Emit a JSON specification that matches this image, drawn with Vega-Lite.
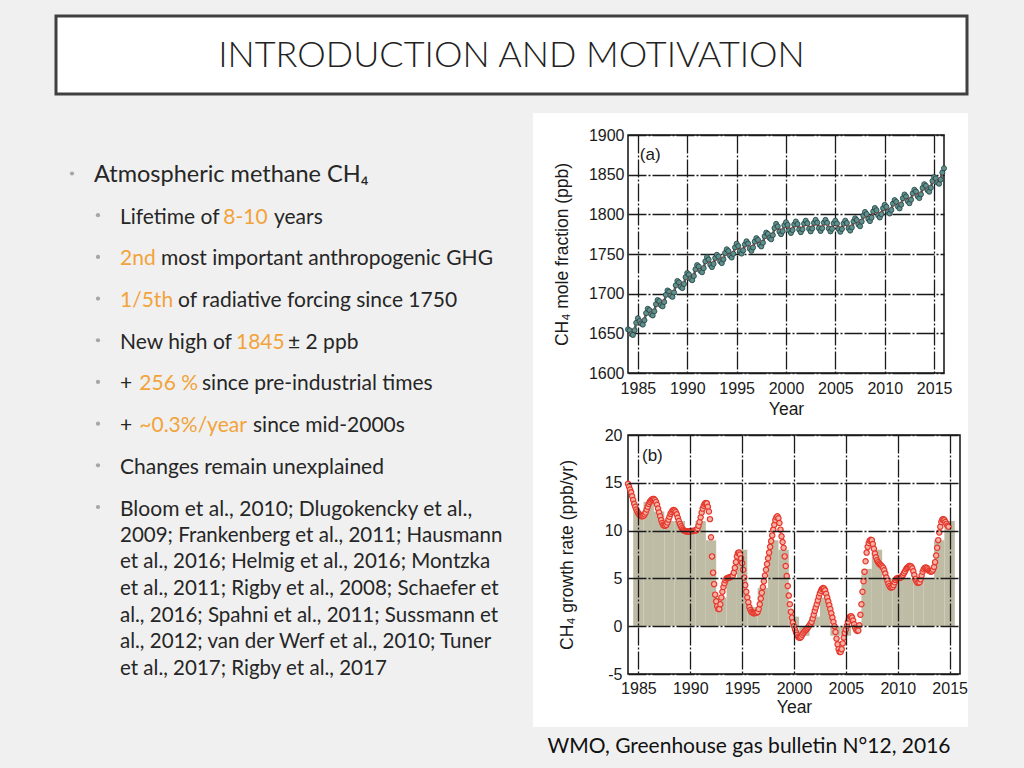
{
"$schema": "https://vega.github.io/schema/vega-lite/v6.json",
"background": "#f0f0f0",
"padding": 0,
"columns": 2,
"align": "none",
"bounds": "flush",
"spacing": 62,
"config": {
  "font": "Liberation Sans",
  "view": {"stroke": null},
  "axis": {"labelFont": "Liberation Sans", "labelFontSize": 16, "labelColor": "#1a1a1a", "titleFont": "Liberation Sans", "titleFontSize": 17.5, "titleFontWeight": "normal", "titleColor": "#1a1a1a", "domain": false, "ticks": false, "grid": true, "gridColor": "#1a1a1a", "gridWidth": 1.3, "gridDash": [18, 2, 2, 2], "gridOpacity": 1, "labelFlush": false, "labelOverlap": false}
},
"datasets": {
  "lines1": [
    {"i": 0, "lvl": 0, "seg": "Atmospheric methane CH₄", "emph": 0},
    {"i": 1, "lvl": 1, "seg": "Lifetime of", "emph": 0},
    {"i": 2, "lvl": 1, "seg": "2nd", "emph": 1},
    {"i": 3, "lvl": 1, "seg": "1/5th", "emph": 1},
    {"i": 4, "lvl": 1, "seg": "New high of", "emph": 0},
    {"i": 5, "lvl": 1, "seg": "+", "emph": 0},
    {"i": 6, "lvl": 1, "seg": "+", "emph": 0},
    {"i": 7, "lvl": 1, "seg": "Changes remain unexplained", "emph": 0},
    {"i": 8, "lvl": 1, "seg": "Bloom et al., 2010; Dlugokencky et al.,", "emph": 0}
  ],
  "lines2": [
    {"i": 0, "lvl": 1, "txt": "2009; Frankenberg et al., 2011; Hausmann"},
    {"i": 1, "lvl": 1, "txt": "et al., 2016; Helmig et al., 2016; Montzka"},
    {"i": 2, "lvl": 1, "txt": "et al., 2011; Rigby et al., 2008; Schaefer et"},
    {"i": 3, "lvl": 1, "txt": "al., 2016; Spahni et al., 2011; Sussmann et"},
    {"i": 4, "lvl": 1, "txt": "al., 2012; van der Werf et al., 2010; Tuner"},
    {"i": 5, "lvl": 1, "txt": "et al., 2017; Rigby et al., 2017"}
  ],
  "ch4": [
    {"t":1984,"v":1655},{"t":1984.167,"v":1653.8},{"t":1984.333,"v":1649.2},{"t":1984.5,"v":1648},{"t":1984.667,"v":1653.8},{"t":1984.833,"v":1663.2},
    {"t":1985,"v":1669},{"t":1985.167,"v":1665.5},{"t":1985.333,"v":1662.5},{"t":1985.5,"v":1661},{"t":1985.667,"v":1666.5},{"t":1985.833,"v":1675.5},
    {"t":1986,"v":1681},{"t":1986.167,"v":1679.3},{"t":1986.333,"v":1674.2},{"t":1986.5,"v":1672.5},{"t":1986.667,"v":1677.8},{"t":1986.833,"v":1686.7},
    {"t":1987,"v":1692},{"t":1987.167,"v":1690.5},{"t":1987.333,"v":1685.5},{"t":1987.5,"v":1684},{"t":1987.667,"v":1689.5},{"t":1987.833,"v":1698.5},
    {"t":1988,"v":1704},{"t":1988.167,"v":1702.5},{"t":1988.333,"v":1697.5},{"t":1988.5,"v":1696},{"t":1988.667,"v":1701.5},{"t":1988.833,"v":1710.5},
    {"t":1989,"v":1716},{"t":1989.167,"v":1714.2},{"t":1989.333,"v":1708.8},{"t":1989.5,"v":1707},{"t":1989.667,"v":1712.2},{"t":1989.833,"v":1720.8},
    {"t":1990,"v":1726},{"t":1990.167,"v":1724.2},{"t":1990.333,"v":1718.8},{"t":1990.5,"v":1717},{"t":1990.667,"v":1722.2},{"t":1990.833,"v":1730.8},
    {"t":1991,"v":1736},{"t":1991.167,"v":1734.2},{"t":1991.333,"v":1728.8},{"t":1991.5,"v":1727},{"t":1991.667,"v":1732.2},{"t":1991.833,"v":1740.8},
    {"t":1992,"v":1746},{"t":1992.167,"v":1743},{"t":1992.333,"v":1736.5},{"t":1992.5,"v":1733.5},{"t":1992.667,"v":1737.5},{"t":1992.833,"v":1745},
    {"t":1993,"v":1749},{"t":1993.167,"v":1746.7},{"t":1993.333,"v":1740.8},{"t":1993.5,"v":1738.5},{"t":1993.667,"v":1743.2},{"t":1993.833,"v":1751.3},
    {"t":1994,"v":1756},{"t":1994.167,"v":1753.7},{"t":1994.333,"v":1747.8},{"t":1994.5,"v":1745.5},{"t":1994.667,"v":1750.2},{"t":1994.833,"v":1758.3},
    {"t":1995,"v":1763},{"t":1995.167,"v":1760},{"t":1995.333,"v":1753.5},{"t":1995.5,"v":1750.5},{"t":1995.667,"v":1754.5},{"t":1995.833,"v":1762},
    {"t":1996,"v":1766},{"t":1996.167,"v":1763.2},{"t":1996.333,"v":1756.8},{"t":1996.5,"v":1754},{"t":1996.667,"v":1758.2},{"t":1996.833,"v":1765.8},
    {"t":1997,"v":1770},{"t":1997.167,"v":1767.7},{"t":1997.333,"v":1761.8},{"t":1997.5,"v":1759.5},{"t":1997.667,"v":1764.2},{"t":1997.833,"v":1772.3},
    {"t":1998,"v":1777},{"t":1998.167,"v":1775.3},{"t":1998.333,"v":1770.2},{"t":1998.5,"v":1768.5},{"t":1998.667,"v":1773.8},{"t":1998.833,"v":1782.7},
    {"t":1999,"v":1788},{"t":1999.167,"v":1784.8},{"t":1999.333,"v":1778.2},{"t":1999.5,"v":1775},{"t":1999.667,"v":1778.8},{"t":1999.833,"v":1786.2},
    {"t":2000,"v":1790},{"t":2000.167,"v":1786.7},{"t":2000.333,"v":1779.8},{"t":2000.5,"v":1776.5},{"t":2000.667,"v":1780.2},{"t":2000.833,"v":1787.3},
    {"t":2001,"v":1791},{"t":2001.167,"v":1787.7},{"t":2001.333,"v":1780.8},{"t":2001.5,"v":1777.5},{"t":2001.667,"v":1781.2},{"t":2001.833,"v":1788.3},
    {"t":2002,"v":1792},{"t":2002.167,"v":1788.7},{"t":2002.333,"v":1781.8},{"t":2002.5,"v":1778.5},{"t":2002.667,"v":1782.2},{"t":2002.833,"v":1789.3},
    {"t":2003,"v":1793},{"t":2003.167,"v":1789.5},{"t":2003.333,"v":1782.5},{"t":2003.5,"v":1779},{"t":2003.667,"v":1782.5},{"t":2003.833,"v":1789.5},
    {"t":2004,"v":1793},{"t":2004.167,"v":1789.3},{"t":2004.333,"v":1782.2},{"t":2004.5,"v":1778.5},{"t":2004.667,"v":1781.8},{"t":2004.833,"v":1788.7},
    {"t":2005,"v":1792},{"t":2005.167,"v":1788.5},{"t":2005.333,"v":1781.5},{"t":2005.5,"v":1778},{"t":2005.667,"v":1781.5},{"t":2005.833,"v":1788.5},
    {"t":2006,"v":1792},{"t":2006.167,"v":1789},{"t":2006.333,"v":1782.5},{"t":2006.5,"v":1779.5},{"t":2006.667,"v":1783.5},{"t":2006.833,"v":1791},
    {"t":2007,"v":1795},{"t":2007.167,"v":1792.8},{"t":2007.333,"v":1787.2},{"t":2007.5,"v":1785},{"t":2007.667,"v":1790.8},{"t":2007.833,"v":1798.2},
    {"t":2008,"v":1803},{"t":2008.167,"v":1800.3},{"t":2008.333,"v":1794.2},{"t":2008.5,"v":1791.5},{"t":2008.667,"v":1795.8},{"t":2008.833,"v":1803.7},
    {"t":2009,"v":1808},{"t":2009.167,"v":1805.2},{"t":2009.333,"v":1798.8},{"t":2009.5,"v":1796},{"t":2009.667,"v":1800.2},{"t":2009.833,"v":1807.8},
    {"t":2010,"v":1812},{"t":2010.167,"v":1809.5},{"t":2010.333,"v":1803.5},{"t":2010.5,"v":1801},{"t":2010.667,"v":1805.5},{"t":2010.833,"v":1813.5},
    {"t":2011,"v":1818},{"t":2011.167,"v":1815.7},{"t":2011.333,"v":1809.8},{"t":2011.5,"v":1807.5},{"t":2011.667,"v":1812.2},{"t":2011.833,"v":1820.3},
    {"t":2012,"v":1825},{"t":2012.167,"v":1822.5},{"t":2012.333,"v":1816.5},{"t":2012.5,"v":1814},{"t":2012.667,"v":1818.5},{"t":2012.833,"v":1826.5},
    {"t":2013,"v":1831},{"t":2013.167,"v":1828.7},{"t":2013.333,"v":1822.8},{"t":2013.5,"v":1820.5},{"t":2013.667,"v":1825.2},{"t":2013.833,"v":1833.3},
    {"t":2014,"v":1838},{"t":2014.167,"v":1836},{"t":2014.333,"v":1830.5},{"t":2014.5,"v":1828.5},{"t":2014.667,"v":1833.5},{"t":2014.833,"v":1842},
    {"t":2015,"v":1847},{"t":2015.167,"v":1845.3},{"t":2015.333,"v":1840.2},{"t":2015.5,"v":1838.5},{"t":2015.667,"v":1843.8},{"t":2015.833,"v":1852.7},
    {"t":2016,"v":1858}
  ],
  "trend": [
    {"t":1984,"v":1648},{"t":1985,"v":1662},{"t":1986,"v":1674},{"t":1987,"v":1685},{"t":1988,"v":1697},{"t":1989,"v":1709},{"t":1990,"v":1719},{"t":1991,"v":1729},{"t":1992,"v":1739},{"t":1993,"v":1742},{"t":1994,"v":1749},{"t":1995,"v":1756},{"t":1996,"v":1759},{"t":1997,"v":1763},{"t":1998,"v":1770},{"t":1999,"v":1781},{"t":2000,"v":1783},{"t":2001,"v":1784},{"t":2002,"v":1785},{"t":2003,"v":1786},{"t":2004,"v":1786},{"t":2005,"v":1785},{"t":2006,"v":1785},{"t":2007,"v":1788},{"t":2008,"v":1796},{"t":2009,"v":1801},{"t":2010,"v":1805},{"t":2011,"v":1811},{"t":2012,"v":1818},{"t":2013,"v":1824},{"t":2014,"v":1831},{"t":2015,"v":1840},{"t":2016,"v":1851}
  ],
  "annual": [
    {"from":1984.5,"to":1985.5,"rate":12},{"from":1985.5,"to":1986.5,"rate":13},{"from":1986.5,"to":1987.5,"rate":12},{"from":1987.5,"to":1988.5,"rate":11},{"from":1988.5,"to":1989.5,"rate":11},{"from":1989.5,"to":1990.5,"rate":10},{"from":1990.5,"to":1991.5,"rate":11},{"from":1991.5,"to":1992.5,"rate":9},{"from":1992.5,"to":1993.5,"rate":3},{"from":1993.5,"to":1994.5,"rate":5},{"from":1994.5,"to":1995.5,"rate":8},{"from":1995.5,"to":1996.5,"rate":2},{"from":1996.5,"to":1997.5,"rate":4},{"from":1997.5,"to":1998.5,"rate":9},{"from":1998.5,"to":1999.5,"rate":8},{"from":1999.5,"to":2000.5,"rate":1},{"from":2000.5,"to":2001.5,"rate":-1},{"from":2001.5,"to":2002.5,"rate":1},{"from":2002.5,"to":2003.5,"rate":3},{"from":2003.5,"to":2004.5,"rate":-1},{"from":2004.5,"to":2005.5,"rate":-1},{"from":2005.5,"to":2006.5,"rate":0},{"from":2006.5,"to":2007.5,"rate":6},{"from":2007.5,"to":2008.5,"rate":8},{"from":2008.5,"to":2009.5,"rate":5},{"from":2009.5,"to":2010.5,"rate":5},{"from":2010.5,"to":2011.5,"rate":5},{"from":2011.5,"to":2012.5,"rate":5},{"from":2012.5,"to":2013.5,"rate":5},{"from":2013.5,"to":2014.5,"rate":9},{"from":2014.5,"to":2015.5,"rate":11}
  ],
  "growth": [
    {"t":1984.0,"g":14.9},{"t":1984.1,"g":14.6},{"t":1984.2,"g":14.3},{"t":1984.3,"g":14.0},{"t":1984.4,"g":13.6},{"t":1984.5,"g":13.2},{"t":1984.6,"g":12.8},{"t":1984.7,"g":12.5},{"t":1984.8,"g":12.2},{"t":1984.9,"g":12.0},
    {"t":1985.0,"g":11.8},{"t":1985.1,"g":11.65},{"t":1985.2,"g":11.55},{"t":1985.3,"g":11.5},{"t":1985.4,"g":11.5},{"t":1985.5,"g":11.55},{"t":1985.6,"g":11.7},{"t":1985.7,"g":11.9},{"t":1985.8,"g":12.2},{"t":1985.9,"g":12.5},
    {"t":1986.0,"g":12.8},{"t":1986.1,"g":13.0},{"t":1986.2,"g":13.15},{"t":1986.3,"g":13.25},{"t":1986.4,"g":13.3},{"t":1986.5,"g":13.3},{"t":1986.6,"g":13.2},{"t":1986.7,"g":13.0},{"t":1986.8,"g":12.7},{"t":1986.9,"g":12.3},
    {"t":1987.0,"g":11.9},{"t":1987.1,"g":11.5},{"t":1987.2,"g":11.1},{"t":1987.3,"g":10.8},{"t":1987.4,"g":10.6},{"t":1987.5,"g":10.5},{"t":1987.6,"g":10.5},{"t":1987.7,"g":10.6},{"t":1987.8,"g":10.85},{"t":1987.9,"g":11.15},
    {"t":1988.0,"g":11.45},{"t":1988.1,"g":11.75},{"t":1988.2,"g":11.95},{"t":1988.3,"g":12.1},{"t":1988.4,"g":12.15},{"t":1988.5,"g":12.1},{"t":1988.6,"g":11.95},{"t":1988.7,"g":11.7},{"t":1988.8,"g":11.35},{"t":1988.9,"g":11.0},
    {"t":1989.0,"g":10.7},{"t":1989.1,"g":10.45},{"t":1989.2,"g":10.25},{"t":1989.3,"g":10.1},{"t":1989.4,"g":10.0},{"t":1989.5,"g":9.95},{"t":1989.6,"g":9.9},{"t":1989.7,"g":9.9},{"t":1989.8,"g":9.9},{"t":1989.9,"g":9.9},
    {"t":1990.0,"g":9.9},{"t":1990.1,"g":9.95},{"t":1990.2,"g":9.95},{"t":1990.3,"g":9.95},{"t":1990.4,"g":10.0},{"t":1990.5,"g":10.0},{"t":1990.6,"g":10.05},{"t":1990.7,"g":10.2},{"t":1990.8,"g":10.5},{"t":1990.9,"g":10.9},
    {"t":1991.0,"g":11.4},{"t":1991.1,"g":11.9},{"t":1991.2,"g":12.3},{"t":1991.3,"g":12.6},{"t":1991.4,"g":12.8},{"t":1991.5,"g":12.9},{"t":1991.6,"g":12.85},{"t":1991.7,"g":12.5},{"t":1991.8,"g":12.0},{"t":1991.9,"g":11.2},
    {"t":1992.0,"g":9.3},{"t":1992.1,"g":7.3},{"t":1992.2,"g":5.6},{"t":1992.3,"g":4.4},{"t":1992.4,"g":3.3},{"t":1992.5,"g":2.6},{"t":1992.6,"g":2.1},{"t":1992.7,"g":1.8},{"t":1992.8,"g":1.8},{"t":1992.9,"g":2.3},
    {"t":1993.0,"g":3.0},{"t":1993.1,"g":3.6},{"t":1993.2,"g":4.1},{"t":1993.3,"g":4.5},{"t":1993.4,"g":4.8},{"t":1993.5,"g":5.0},{"t":1993.6,"g":5.05},{"t":1993.7,"g":5.1},{"t":1993.8,"g":5.1},{"t":1993.9,"g":5.15},
    {"t":1994.0,"g":5.2},{"t":1994.1,"g":5.3},{"t":1994.2,"g":5.6},{"t":1994.3,"g":6.1},{"t":1994.4,"g":6.7},{"t":1994.5,"g":7.3},{"t":1994.6,"g":7.65},{"t":1994.7,"g":7.7},{"t":1994.8,"g":7.5},{"t":1994.9,"g":7.1},
    {"t":1995.0,"g":6.6},{"t":1995.1,"g":5.9},{"t":1995.2,"g":5.1},{"t":1995.3,"g":4.3},{"t":1995.4,"g":3.6},{"t":1995.5,"g":3.0},{"t":1995.6,"g":2.5},{"t":1995.7,"g":2.0},{"t":1995.8,"g":1.7},{"t":1995.9,"g":1.5},
    {"t":1996.0,"g":1.4},{"t":1996.1,"g":1.35},{"t":1996.2,"g":1.35},{"t":1996.3,"g":1.4},{"t":1996.4,"g":1.4},{"t":1996.5,"g":1.5},{"t":1996.6,"g":1.8},{"t":1996.7,"g":2.3},{"t":1996.8,"g":2.9},{"t":1996.9,"g":3.5},
    {"t":1997.0,"g":4.1},{"t":1997.1,"g":4.7},{"t":1997.2,"g":5.3},{"t":1997.3,"g":5.9},{"t":1997.4,"g":6.5},{"t":1997.5,"g":7.1},{"t":1997.6,"g":7.7},{"t":1997.7,"g":8.3},{"t":1997.8,"g":8.9},{"t":1997.9,"g":9.5},
    {"t":1998.0,"g":10.1},{"t":1998.1,"g":10.6},{"t":1998.2,"g":11.1},{"t":1998.3,"g":11.4},{"t":1998.4,"g":11.5},{"t":1998.5,"g":11.3},{"t":1998.6,"g":10.8},{"t":1998.7,"g":10.1},{"t":1998.8,"g":9.4},{"t":1998.9,"g":8.8},
    {"t":1999.0,"g":8.2},{"t":1999.1,"g":7.3},{"t":1999.2,"g":6.3},{"t":1999.3,"g":5.25},{"t":1999.4,"g":4.2},{"t":1999.5,"g":3.2},{"t":1999.6,"g":2.3},{"t":1999.7,"g":1.5},{"t":1999.8,"g":0.9},{"t":1999.9,"g":0.4},
    {"t":2000.0,"g":0.0},{"t":2000.1,"g":-0.35},{"t":2000.2,"g":-0.65},{"t":2000.3,"g":-0.9},{"t":2000.4,"g":-1.1},{"t":2000.5,"g":-1.2},{"t":2000.6,"g":-1.2},{"t":2000.7,"g":-1.1},{"t":2000.8,"g":-0.9},{"t":2000.9,"g":-0.7},
    {"t":2001.0,"g":-0.55},{"t":2001.1,"g":-0.42},{"t":2001.2,"g":-0.33},{"t":2001.3,"g":-0.2},{"t":2001.4,"g":-0.05},{"t":2001.5,"g":0.1},{"t":2001.6,"g":0.25},{"t":2001.7,"g":0.45},{"t":2001.8,"g":0.8},{"t":2001.9,"g":1.2},
    {"t":2002.0,"g":1.6},{"t":2002.1,"g":1.95},{"t":2002.2,"g":2.3},{"t":2002.3,"g":2.7},{"t":2002.4,"g":3.1},{"t":2002.5,"g":3.45},{"t":2002.6,"g":3.7},{"t":2002.7,"g":3.9},{"t":2002.8,"g":4.0},{"t":2002.9,"g":3.95},
    {"t":2003.0,"g":3.75},{"t":2003.1,"g":3.4},{"t":2003.2,"g":3.0},{"t":2003.3,"g":2.6},{"t":2003.4,"g":2.2},{"t":2003.5,"g":1.8},{"t":2003.6,"g":1.35},{"t":2003.7,"g":0.9},{"t":2003.8,"g":0.45},{"t":2003.9,"g":0.0},
    {"t":2004.0,"g":-0.6},{"t":2004.1,"g":-1.3},{"t":2004.2,"g":-1.9},{"t":2004.3,"g":-2.4},{"t":2004.4,"g":-2.7},{"t":2004.5,"g":-2.7},{"t":2004.6,"g":-2.4},{"t":2004.7,"g":-1.8},{"t":2004.8,"g":-1.2},{"t":2004.9,"g":-0.7},
    {"t":2005.0,"g":-0.35},{"t":2005.1,"g":0.05},{"t":2005.2,"g":0.45},{"t":2005.3,"g":0.8},{"t":2005.4,"g":1.0},{"t":2005.5,"g":1.05},{"t":2005.6,"g":0.9},{"t":2005.7,"g":0.6},{"t":2005.8,"g":0.2},{"t":2005.9,"g":-0.15},
    {"t":2006.0,"g":-0.4},{"t":2006.1,"g":-0.5},{"t":2006.2,"g":-0.45},{"t":2006.3,"g":0.1},{"t":2006.4,"g":1.2},{"t":2006.5,"g":2.3},{"t":2006.6,"g":3.6},{"t":2006.7,"g":4.7},{"t":2006.8,"g":5.7},{"t":2006.9,"g":6.8},
    {"t":2007.0,"g":7.7},{"t":2007.1,"g":8.3},{"t":2007.2,"g":8.7},{"t":2007.3,"g":8.95},{"t":2007.4,"g":9.05},{"t":2007.5,"g":9.0},{"t":2007.6,"g":8.6},{"t":2007.7,"g":8.1},{"t":2007.8,"g":7.6},{"t":2007.9,"g":7.2},
    {"t":2008.0,"g":6.9},{"t":2008.1,"g":6.7},{"t":2008.2,"g":6.55},{"t":2008.3,"g":6.45},{"t":2008.4,"g":6.35},{"t":2008.5,"g":6.25},{"t":2008.6,"g":6.1},{"t":2008.7,"g":5.85},{"t":2008.8,"g":5.5},{"t":2008.9,"g":5.1},
    {"t":2009.0,"g":4.75},{"t":2009.1,"g":4.45},{"t":2009.2,"g":4.2},{"t":2009.3,"g":4.05},{"t":2009.4,"g":4.05},{"t":2009.5,"g":4.1},{"t":2009.6,"g":4.3},{"t":2009.7,"g":4.6},{"t":2009.8,"g":4.85},{"t":2009.9,"g":5.0},
    {"t":2010.0,"g":5.05},{"t":2010.1,"g":5.05},{"t":2010.2,"g":5.05},{"t":2010.3,"g":5.1},{"t":2010.4,"g":5.2},{"t":2010.5,"g":5.35},{"t":2010.6,"g":5.55},{"t":2010.7,"g":5.75},{"t":2010.8,"g":5.95},{"t":2010.9,"g":6.1},
    {"t":2011.0,"g":6.2},{"t":2011.1,"g":6.3},{"t":2011.2,"g":6.3},{"t":2011.3,"g":6.25},{"t":2011.4,"g":6.05},{"t":2011.5,"g":5.75},{"t":2011.6,"g":5.35},{"t":2011.7,"g":4.95},{"t":2011.8,"g":4.7},{"t":2011.9,"g":4.55},
    {"t":2012.0,"g":4.55},{"t":2012.1,"g":4.6},{"t":2012.2,"g":4.9},{"t":2012.3,"g":5.3},{"t":2012.4,"g":5.7},{"t":2012.5,"g":5.95},{"t":2012.6,"g":6.1},{"t":2012.7,"g":6.15},{"t":2012.8,"g":6.1},{"t":2012.9,"g":5.95},
    {"t":2013.0,"g":5.8},{"t":2013.1,"g":5.75},{"t":2013.2,"g":5.7},{"t":2013.3,"g":5.75},{"t":2013.4,"g":5.9},{"t":2013.5,"g":6.2},{"t":2013.6,"g":6.7},{"t":2013.7,"g":7.4},{"t":2013.8,"g":8.2},{"t":2013.9,"g":9.0},
    {"t":2014.0,"g":9.8},{"t":2014.1,"g":10.4},{"t":2014.2,"g":10.9},{"t":2014.3,"g":11.15},{"t":2014.4,"g":11.2},{"t":2014.5,"g":11.1},{"t":2014.6,"g":10.9},{"t":2014.7,"g":10.7},{"t":2014.8,"g":10.5},{"t":2014.9,"g":10.4}
  ]
},
"concat": [
  {
    "width": 100,
    "height": 73,
    "resolve": {"scale": {"x": "independent", "y": "independent", "size": "independent", "color": "independent"}},
    "layer": [
      {
        "data": {"values": [{"heading": "INTRODUCTION AND MOTIVATION", "source": "WMO, Greenhouse gas bulletin N°12, 2016"}]},
        "layer": [
          {"mark": {"type": "rect", "fill": "#f0f0f0"},
           "encoding": {
             "x": {"datum": 0, "type": "quantitative", "scale": {"domain": [0, 100], "nice": false, "zero": false}, "axis": null},
             "x2": {"datum": 1024},
             "y": {"datum": 0, "type": "quantitative", "scale": {"domain": [0, 73], "nice": false, "zero": false, "reverse": true}, "axis": null},
             "y2": {"datum": 768}}},
          {"mark": {"type": "rect", "fill": "#ffffff", "stroke": "#404040", "strokeWidth": 3},
           "encoding": {
             "x": {"datum": 56, "type": "quantitative"},
             "x2": {"datum": 967},
             "y": {"datum": 16, "type": "quantitative"},
             "y2": {"datum": 94}}},
          {"mark": {"type": "rect", "fill": "#ffffff"},
           "encoding": {
             "x": {"datum": 533, "type": "quantitative"},
             "x2": {"datum": 968},
             "y": {"datum": 113, "type": "quantitative"},
             "y2": {"datum": 727}}},
          {"mark": {"type": "text", "font": "Lato", "fontSize": 36, "fontWeight": 300, "color": "#222222", "align": "center", "baseline": "alphabetic"},
           "encoding": {
             "x": {"datum": 511.5, "type": "quantitative"},
             "y": {"datum": 67, "type": "quantitative"},
             "text": {"field": "heading"}}},
          {"mark": {"type": "text", "font": "Lato", "fontSize": 21, "color": "#111111", "align": "center", "baseline": "alphabetic"},
           "encoding": {
             "x": {"datum": 749, "type": "quantitative"},
             "y": {"datum": 753, "type": "quantitative"},
             "text": {"field": "source"}}}
        ]
      },
      {
        "encoding": {
          "x": {"field": "lvl", "type": "ordinal", "scale": {"type": "point", "domain": [0, 1], "range": [94, 120], "padding": 0}, "axis": null},
          "y": {"field": "i", "type": "ordinal", "scale": {"type": "point", "domain": [0, 1, 2, 3, 4, 5, 6, 7, 8], "range": [182, 515.5], "padding": 0}, "axis": null},
          "color": {"field": "emph", "type": "nominal", "scale": {"domain": [0, 1], "range": ["#262626", "#f2a33a"]}, "legend": null}
        },
        "layer": [
          {"data": {"name": "lines1"}, "mark": {"type": "circle", "size": 18, "opacity": 1, "xOffset": -22, "yOffset": -8.5}, "encoding": {"color": {"value": "#a6a6a6"}}},
          {"data": {"name": "lines1"}, "mark": {"type": "text", "align": "left", "baseline": "alphabetic", "font": "Lato"},
           "encoding": {"text": {"field": "seg"}, "size": {"field": "lvl", "type": "ordinal", "scale": {"domain": [0, 1], "range": [23.5, 21]}, "legend": null}}},
          {"data": {"values": [{"i": 1, "lvl": 1, "seg": "8-10", "emph": 1}]}, "mark": {"type": "text", "align": "left", "baseline": "alphabetic", "font": "Lato", "fontSize": 21, "dx": 103.3}, "encoding": {"text": {"field": "seg"}}},
          {"data": {"values": [{"i": 1, "lvl": 1, "seg": "years", "emph": 0}]}, "mark": {"type": "text", "align": "left", "baseline": "alphabetic", "font": "Lato", "fontSize": 21, "dx": 154}, "encoding": {"text": {"field": "seg"}}},
          {"data": {"values": [{"i": 2, "lvl": 1, "seg": "most important anthropogenic GHG", "emph": 0}]}, "mark": {"type": "text", "align": "left", "baseline": "alphabetic", "font": "Lato", "fontSize": 21, "dx": 41}, "encoding": {"text": {"field": "seg"}}},
          {"data": {"values": [{"i": 3, "lvl": 1, "seg": "of radiative forcing since 1750", "emph": 0}]}, "mark": {"type": "text", "align": "left", "baseline": "alphabetic", "font": "Lato", "fontSize": 21, "dx": 58}, "encoding": {"text": {"field": "seg"}}},
          {"data": {"values": [{"i": 4, "lvl": 1, "seg": "1845", "emph": 1}]}, "mark": {"type": "text", "align": "left", "baseline": "alphabetic", "font": "Lato", "fontSize": 21, "dx": 116}, "encoding": {"text": {"field": "seg"}}},
          {"data": {"values": [{"i": 4, "lvl": 1, "seg": "± 2 ppb", "emph": 0}]}, "mark": {"type": "text", "align": "left", "baseline": "alphabetic", "font": "Lato", "fontSize": 21, "dx": 168}, "encoding": {"text": {"field": "seg"}}},
          {"data": {"values": [{"i": 5, "lvl": 1, "seg": "256 %", "emph": 1}, {"i": 6, "lvl": 1, "seg": "~0.3%/year", "emph": 1}]}, "mark": {"type": "text", "align": "left", "baseline": "alphabetic", "font": "Lato", "fontSize": 21, "dx": 19.3}, "encoding": {"text": {"field": "seg"}}},
          {"data": {"values": [{"i": 5, "lvl": 1, "seg": "since pre-industrial times", "emph": 0}]}, "mark": {"type": "text", "align": "left", "baseline": "alphabetic", "font": "Lato", "fontSize": 21, "dx": 82}, "encoding": {"text": {"field": "seg"}}},
          {"data": {"values": [{"i": 6, "lvl": 1, "seg": "since mid-2000s", "emph": 0}]}, "mark": {"type": "text", "align": "left", "baseline": "alphabetic", "font": "Lato", "fontSize": 21, "dx": 133}, "encoding": {"text": {"field": "seg"}}}
        ]
      },
      {
        "data": {"name": "lines2"},
        "mark": {"type": "text", "align": "left", "baseline": "alphabetic", "font": "Lato", "fontSize": 20.5, "color": "#262626"},
        "encoding": {
          "x": {"field": "lvl", "type": "ordinal", "scale": {"type": "point", "domain": [0, 1], "range": [94, 120], "padding": 0}, "axis": null},
          "y": {"field": "i", "type": "ordinal", "scale": {"type": "point", "domain": [0, 1, 2, 3, 4, 5], "range": [541.7, 675], "padding": 0}, "axis": null},
          "text": {"field": "txt"}
        }
      }
    ]
  },
  {"width": 10, "height": 73, "data": {"values": [{"s": 0}]}, "mark": {"type": "point", "opacity": 0}},
  {"width": 566, "height": 10, "data": {"values": [{"s": 0}]}, "mark": {"type": "point", "opacity": 0}},
  {
    "width": 316,
    "height": 238,
    "view": {"stroke": "#111111", "strokeWidth": 1.5},
    "layer": [
      {"data": {"name": "ch4"}, "mark": {"type": "line", "color": "#3a6866", "strokeWidth": 2.5},
       "encoding": {
         "x": {"field": "t", "type": "quantitative", "title": "Year", "scale": {"domain": [1984, 2016], "nice": false, "zero": false},
               "axis": {"values": [1985, 1990, 1995, 2000, 2005, 2010, 2015], "format": "d", "labelPadding": 7, "titlePadding": 4}},
         "y": {"field": "v", "type": "quantitative", "title": "CH₄ mole fraction (ppb)", "scale": {"domain": [1600, 1900], "nice": false, "zero": false},
               "axis": {"values": [1600, 1650, 1700, 1750, 1800, 1850, 1900], "format": "d", "labelPadding": 4, "titlePadding": 17}}}},
      {"data": {"name": "ch4"}, "mark": {"type": "point", "filled": true, "fill": "#5e918e", "stroke": "#213f3e", "strokeWidth": 0.8, "size": 26, "opacity": 1},
       "encoding": {
         "x": {"field": "t", "type": "quantitative", "title": "Year", "scale": {"domain": [1984, 2016], "nice": false, "zero": false},
               "axis": {"values": [1985, 1990, 1995, 2000, 2005, 2010, 2015], "format": "d", "labelPadding": 7, "titlePadding": 4}},
         "y": {"field": "v", "type": "quantitative", "title": "CH₄ mole fraction (ppb)", "scale": {"domain": [1600, 1900], "nice": false, "zero": false},
               "axis": {"values": [1600, 1650, 1700, 1750, 1800, 1850, 1900], "format": "d", "labelPadding": 4, "titlePadding": 17}}}},
      {"data": {"name": "trend"}, "mark": {"type": "line", "color": "#e04848", "strokeWidth": 0.8, "strokeDash": [2, 2]},
       "encoding": {
         "x": {"field": "t", "type": "quantitative", "title": "Year", "scale": {"domain": [1984, 2016], "nice": false, "zero": false},
               "axis": {"values": [1985, 1990, 1995, 2000, 2005, 2010, 2015], "format": "d", "labelPadding": 7, "titlePadding": 4}},
         "y": {"field": "v", "type": "quantitative", "title": "CH₄ mole fraction (ppb)", "scale": {"domain": [1600, 1900], "nice": false, "zero": false},
               "axis": {"values": [1600, 1650, 1700, 1750, 1800, 1850, 1900], "format": "d", "labelPadding": 4, "titlePadding": 17}}}},
      {"data": {"values": [{"lab": "(a)"}]},
       "mark": {"type": "text", "align": "left", "baseline": "middle", "fontSize": 17, "font": "Liberation Sans", "color": "#1a1a1a"},
       "encoding": {
         "x": {"datum": 1985.2, "type": "quantitative", "title": "Year", "scale": {"domain": [1984, 2016], "nice": false, "zero": false},
               "axis": {"values": [1985, 1990, 1995, 2000, 2005, 2010, 2015], "format": "d", "labelPadding": 7, "titlePadding": 4}},
         "y": {"datum": 1875, "type": "quantitative", "title": "CH₄ mole fraction (ppb)", "scale": {"domain": [1600, 1900], "nice": false, "zero": false},
               "axis": {"values": [1600, 1650, 1700, 1750, 1800, 1850, 1900], "format": "d", "labelPadding": 4, "titlePadding": 17}},
         "text": {"field": "lab"}}}
    ]
  },
  {"width": 549, "height": 10, "data": {"values": [{"s": 0}]}, "mark": {"type": "point", "opacity": 0}},
  {
    "width": 332,
    "height": 239,
    "view": {"stroke": "#111111", "strokeWidth": 1.5},
    "layer": [
      {"data": {"name": "annual"}, "mark": {"type": "rect", "fill": "#bfbca6"},
       "encoding": {
         "x": {"field": "from", "type": "quantitative", "title": "Year", "scale": {"domain": [1984, 2016], "nice": false, "zero": false},
               "axis": {"values": [1985, 1990, 1995, 2000, 2005, 2010, 2015], "format": "d", "labelPadding": 6, "titlePadding": 2, "zindex": 1}},
         "x2": {"field": "to"},
         "y": {"field": "rate", "type": "quantitative", "title": "CH₄ growth rate (ppb/yr)", "scale": {"domain": [-5, 20], "nice": false, "zero": false},
               "axis": {"values": [-5, 0, 5, 10, 15, 20], "labelExpr": "'' + datum.value", "labelPadding": 6, "titlePadding": 28, "zindex": 1}},
         "y2": {"datum": 0}}},
      {"data": {"name": "growth"}, "mark": {"type": "point", "filled": true, "fill": "#f6b0a4", "stroke": "#e5372b", "strokeWidth": 1.2, "size": 28, "opacity": 1},
       "encoding": {
         "x": {"field": "t", "type": "quantitative", "title": "Year", "scale": {"domain": [1984, 2016], "nice": false, "zero": false},
               "axis": {"values": [1985, 1990, 1995, 2000, 2005, 2010, 2015], "format": "d", "labelPadding": 6, "titlePadding": 2, "zindex": 1}},
         "y": {"field": "g", "type": "quantitative", "title": "CH₄ growth rate (ppb/yr)", "scale": {"domain": [-5, 20], "nice": false, "zero": false},
               "axis": {"values": [-5, 0, 5, 10, 15, 20], "labelExpr": "'' + datum.value", "labelPadding": 6, "titlePadding": 28, "zindex": 1}}}},
      {"data": {"values": [{"lab": "(b)"}]},
       "mark": {"type": "text", "align": "left", "baseline": "middle", "fontSize": 17, "font": "Liberation Sans", "color": "#1a1a1a"},
       "encoding": {
         "x": {"datum": 1985.35, "type": "quantitative", "title": "Year", "scale": {"domain": [1984, 2016], "nice": false, "zero": false},
               "axis": {"values": [1985, 1990, 1995, 2000, 2005, 2010, 2015], "format": "d", "labelPadding": 6, "titlePadding": 2, "zindex": 1}},
         "y": {"datum": 17.85, "type": "quantitative", "title": "CH₄ growth rate (ppb/yr)", "scale": {"domain": [-5, 20], "nice": false, "zero": false},
               "axis": {"values": [-5, 0, 5, 10, 15, 20], "labelExpr": "'' + datum.value", "labelPadding": 6, "titlePadding": 28, "zindex": 1}},
         "text": {"field": "lab"}}}
    ]
  }
]
}
